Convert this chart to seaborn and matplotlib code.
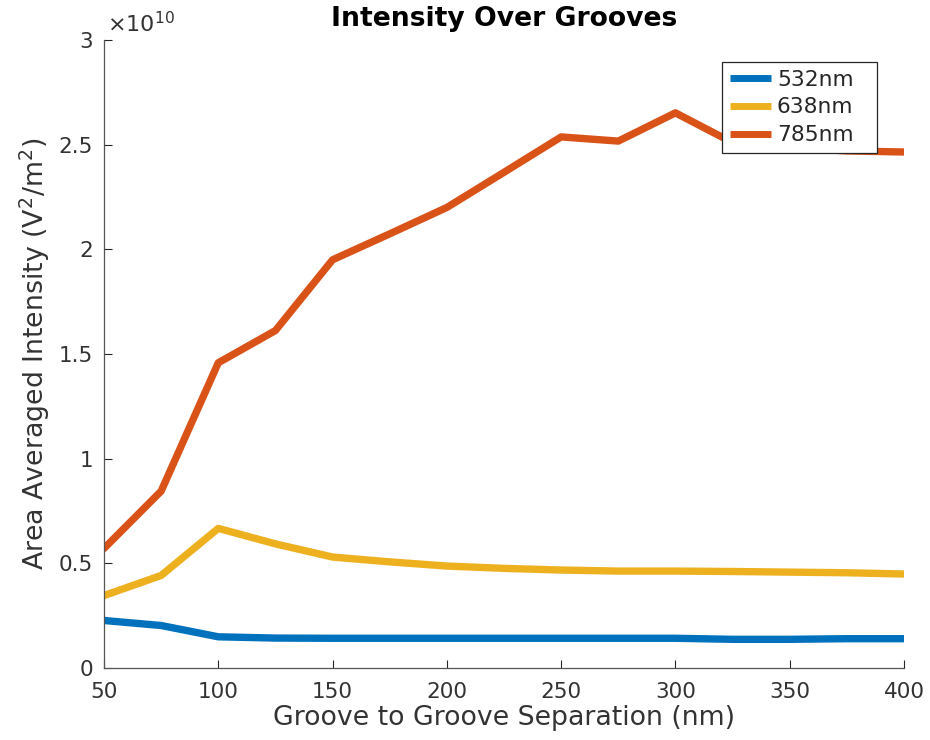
import numpy as np
import pandas as pd
import matplotlib
matplotlib.use("Agg")
import matplotlib.pyplot as plt
import seaborn as sns
from matplotlib.ticker import FuncFormatter

# ---- data ----
separation = [50, 75, 100, 125, 150, 175, 200, 225, 250, 275, 300, 325, 350, 375, 400]
int_532 = [0.227e10, 0.203e10, 0.149e10, 0.143e10, 0.142e10, 0.142e10, 0.142e10, 0.142e10,
           0.142e10, 0.142e10, 0.142e10, 0.137e10, 0.137e10, 0.140e10, 0.140e10]
int_638 = [0.346e10, 0.442e10, 0.667e10, 0.593e10, 0.530e10, 0.507e10, 0.487e10, 0.476e10,
           0.468e10, 0.463e10, 0.463e10, 0.461e10, 0.458e10, 0.455e10, 0.449e10]
int_785 = [0.571e10, 0.845e10, 1.458e10, 1.612e10, 1.950e10, 2.074e10, 2.200e10, 2.368e10,
           2.537e10, 2.517e10, 2.652e10, 2.510e10, 2.485e10, 2.470e10, 2.465e10]
series_labels = ["532nm", "638nm", "785nm"]
colors = ["#0072BD", "#EDB120", "#D95319"]
x_ticks = [50, 100, 150, 200, 250, 300, 350, 400]
y_ticks = [0, 0.5e10, 1e10, 1.5e10, 2e10, 2.5e10, 3e10]

df = pd.DataFrame({
    "x": separation * 3,
    "y": int_532 + int_638 + int_785,
    "series": [series_labels[0]] * len(separation)
              + [series_labels[1]] * len(separation)
              + [series_labels[2]] * len(separation),
})

sns.set_style("ticks")
plt.rcParams["font.family"] = ["DejaVu Sans"]
plt.rcParams["mathtext.fontset"] = "dejavusans"

txt = "#262626"
lab = "#333333"
fig = plt.figure(figsize=(9.3, 7.4), dpi=100)
ax = fig.add_axes([104 / 930, 72 / 740, 800 / 930, 628 / 740])

sns.lineplot(data=df, x="x", y="y", hue="series", palette=colors,
             linewidth=5.3, ax=ax, legend=True)

ax.set_xlim(50, 400)
ax.set_ylim(0, 3e10)
ax.set_xticks(x_ticks)
ax.set_yticks(y_ticks)
ax.yaxis.set_major_formatter(FuncFormatter(lambda v, p: "%g" % (v / 1e10)))
ax.tick_params(direction="in", length=6, width=0.8, colors=txt, labelsize=15.5,
               labelcolor=lab)
ax.tick_params(axis="x", pad=10)
ax.tick_params(axis="y", pad=8)
sns.despine(ax=ax)
for s in ("left", "bottom"):
    ax.spines[s].set_color("#555555")
    ax.spines[s].set_linewidth(0.9)

ax.set_xlabel("Groove to Groove Separation (nm)", fontsize=19.3, color=lab, labelpad=2)
ax.set_ylabel(r"Area Averaged Intensity (V$^2$/m$^2$)", fontsize=19.3, color=lab, labelpad=5)
ax.set_title("Intensity Over Grooves", fontsize=19.2, fontweight="bold", color="black", pad=10)
ax.text(0.004, 1.006, r"$\times10^{10}$", transform=ax.transAxes, fontsize=16,
        color=lab, ha="left", va="bottom")

leg = ax.legend(loc="upper left", bbox_to_anchor=(0.773, 0.80, 0.193, 0.165),
                mode="expand", borderaxespad=0,
                fontsize=15.7, frameon=True, fancybox=False, framealpha=1,
                handlelength=1.9, handletextpad=0.25, labelspacing=0.36, borderpad=0.35)
leg.get_frame().set_edgecolor("#262626")
leg.get_frame().set_linewidth(0.9)
for t in leg.get_texts():
    t.set_color(txt)
for l in leg.get_lines():
    l.set_linewidth(5)
    l.set_solid_capstyle("butt")

fig.savefig("out.png", dpi=100)
